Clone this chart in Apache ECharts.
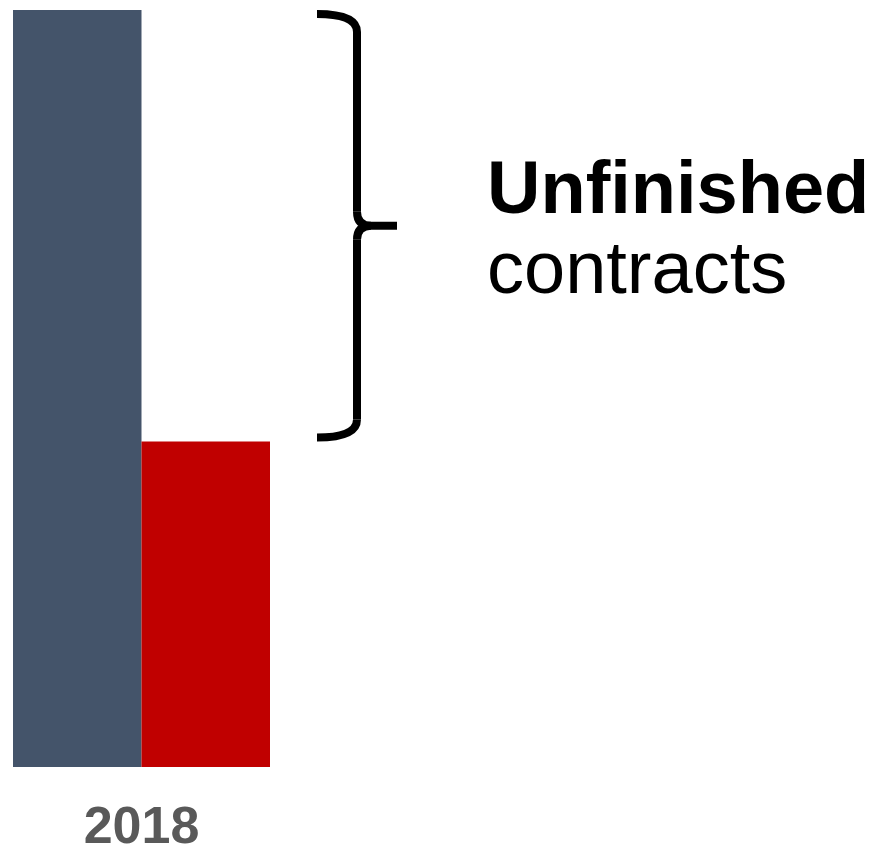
<!DOCTYPE html>
<html>
<head>
<meta charset="utf-8">
<script src="https://cdn.jsdelivr.net/npm/echarts@6/dist/echarts.min.js"></script>
<style>html,body{margin:0;padding:0;background:#fff}#c{width:875px;height:851px}</style>
</head>
<body>
<div id="c"></div>
<script>
var categories = ['2018'];
var totalContracts = [100];
var finishedContracts = [43];
var annotationBold = 'Unfinished';
var annotationRegular = 'contracts';

(function () {
var chart = echarts.init(document.getElementById('c'));
chart.setOption({
  animation: false,
  grid: { left: 13, width: 257, top: 10, bottom: 84, outerBoundsMode: 'none', containLabel: false },
  xAxis: {
    type: 'category', data: categories,
    axisLine: { show: false }, axisTick: { show: false },
    axisLabel: { color: '#595959', fontFamily: 'Liberation Sans, Arial, sans-serif', fontWeight: 'bold', fontSize: 52, margin: 36 }
  },
  yAxis: { type: 'value', min: 0, max: 100, show: false, splitLine: { show: false } },
  series: [
    { type: 'bar', data: totalContracts, itemStyle: { color: '#44546A' }, barGap: '0%', barCategoryGap: '0%' },
    { type: 'bar', data: finishedContracts, itemStyle: { color: '#C00000' }, barGap: '0%', barCategoryGap: '0%' }
  ]
});

var yTop = chart.convertToPixel({ yAxisIndex: 0 }, totalContracts[0]) + 4;
var yBot = chart.convertToPixel({ yAxisIndex: 0 }, finishedContracts[0]) - 4;
var yMid = (yTop + yBot) / 2;
var xl = 317, xv = 357, xt = 397, r = 18;
function st() { return { fill: 'none', stroke: '#000', lineWidth: 8 }; }
function curve(x1, y1, cx, cy, x2, y2) {
  return { type: 'bezierCurve', shape: { x1: x1, y1: y1, cpx1: cx, cpy1: cy, x2: x2, y2: y2 }, style: st() };
}
function line(x1, y1, x2, y2) {
  return { type: 'line', shape: { x1: x1, y1: y1, x2: x2, y2: y2 }, style: st() };
}

chart.setOption({
  graphic: { elements: [
    curve(xl, yTop, xv, yTop, xv, yTop + r),
    line(xv, yTop + r, xv, yMid - 14),
    curve(xv, yMid - 14, xv, yMid, xv + 14, yMid),
    line(xv + 14, yMid, xt, yMid),
    curve(xv + 14, yMid, xv, yMid, xv, yMid + 14),
    line(xv, yMid + 14, xv, yBot - r),
    curve(xv, yBot - r, xv, yBot, xl, yBot),
    { type: 'text', x: 487, y: yMid - 70, style: { text: annotationBold, font: 'bold 74px "Liberation Sans", Arial, sans-serif', fill: '#000' } },
    { type: 'text', x: 487, y: yMid + 10, style: { text: annotationRegular, font: '74px "Liberation Sans", Arial, sans-serif', fill: '#000' } }
  ] }
});
})();
</script>
</body>
</html>
